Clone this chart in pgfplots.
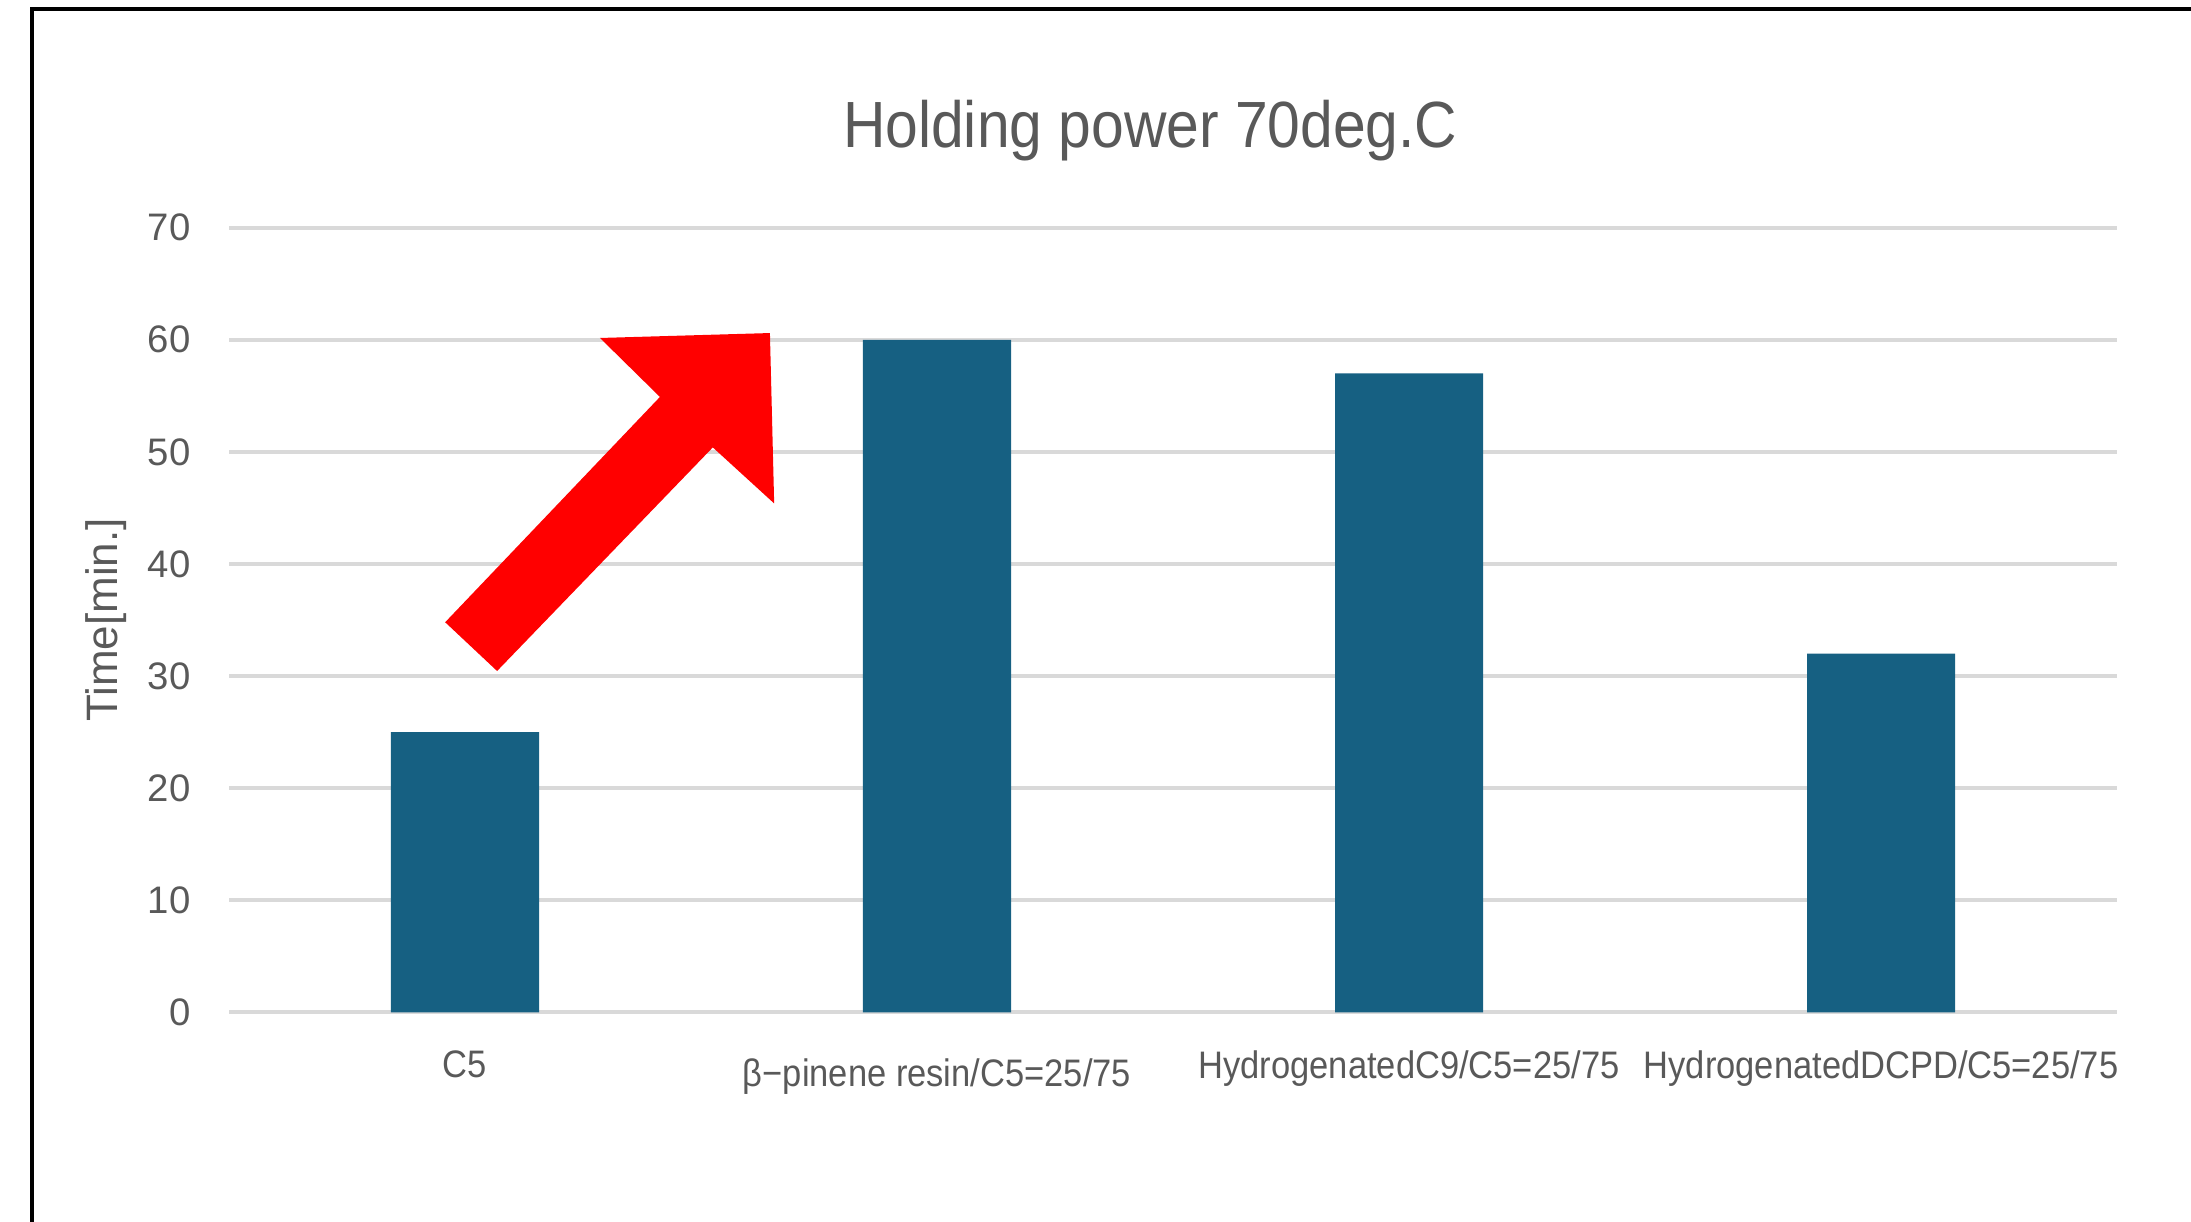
\documentclass[border=0pt]{standalone}
\usepackage{fontspec}
\setmainfont{Liberation Sans}
\newfontfamily\condfont[FakeStretch=0.9]{Liberation Sans}
\usepackage{pgfplots}
\pgfplotsset{compat=1.18}
\definecolor{barblue}{HTML}{166082}
\definecolor{gridgray}{HTML}{D9D9D9}
\definecolor{txtgray}{HTML}{595959}
\begin{document}
\begin{tikzpicture}
\path[use as bounding box] (0,0) rectangle (657.3pt,366.3pt);
\draw[line width=1.2pt, black] (9.6pt,-1pt) -- (9.6pt,363.7pt) -- (660pt,363.7pt);
\begin{axis}[
  at={(68.7pt,62.6pt)}, anchor=south west,
  scale only axis,
  width=566.4pt, height=235.4pt,
  xmin=-0.5, xmax=3.5, ymin=0, ymax=70,
  ytick={0,10,...,70},
  xtick={0,1,2,3},
  xticklabels={C5, \raisebox{-2.5pt}[\height][\depth]{β−pinene resin/C5=25/75}, HydrogenatedC9/C5=25/75, HydrogenatedDCPD/C5=25/75},
  axis line style={draw=none},
  major tick length=0pt,
  ymajorgrids,
  major grid style={color=gridgray, line width=1.1pt},
  /pgf/number format/assume math mode=true,
  tick label style={color=txtgray},
  yticklabel style={font=\fontsize{11.5}{13}\selectfont, xshift=-8pt},
  xticklabel style={font=\condfont\fontsize{11.5}{13}\selectfont, anchor=north, yshift=-8pt},
  ylabel={Time[min.]},
  ylabel style={at={(axis description cs:-0.065,0.5)}, anchor=center, color=txtgray, font=\fontsize{13.2}{15}\selectfont},
  title={Holding power 70deg.C},
  title style={at={(axis description cs:0.488,1)}, anchor=center, yshift=23.2pt, color=txtgray, font=\condfont\fontsize{19.6}{23}\selectfont},
  clip=false,
]
\addplot[ybar, bar width=0.3136, fill=barblue, draw=none] coordinates {(0,25) (1,60) (2,57) (3,32)};
\fill[red] (axis cs:-0.042,34.8) -- (axis cs:0.413,54.9) -- (axis cs:0.286,60.16) -- (axis cs:0.646,60.6) -- (axis cs:0.655,45.4) -- (axis cs:0.525,50.4) -- (axis cs:0.068,30.45) -- cycle;
\end{axis}
\end{tikzpicture}
\end{document}
